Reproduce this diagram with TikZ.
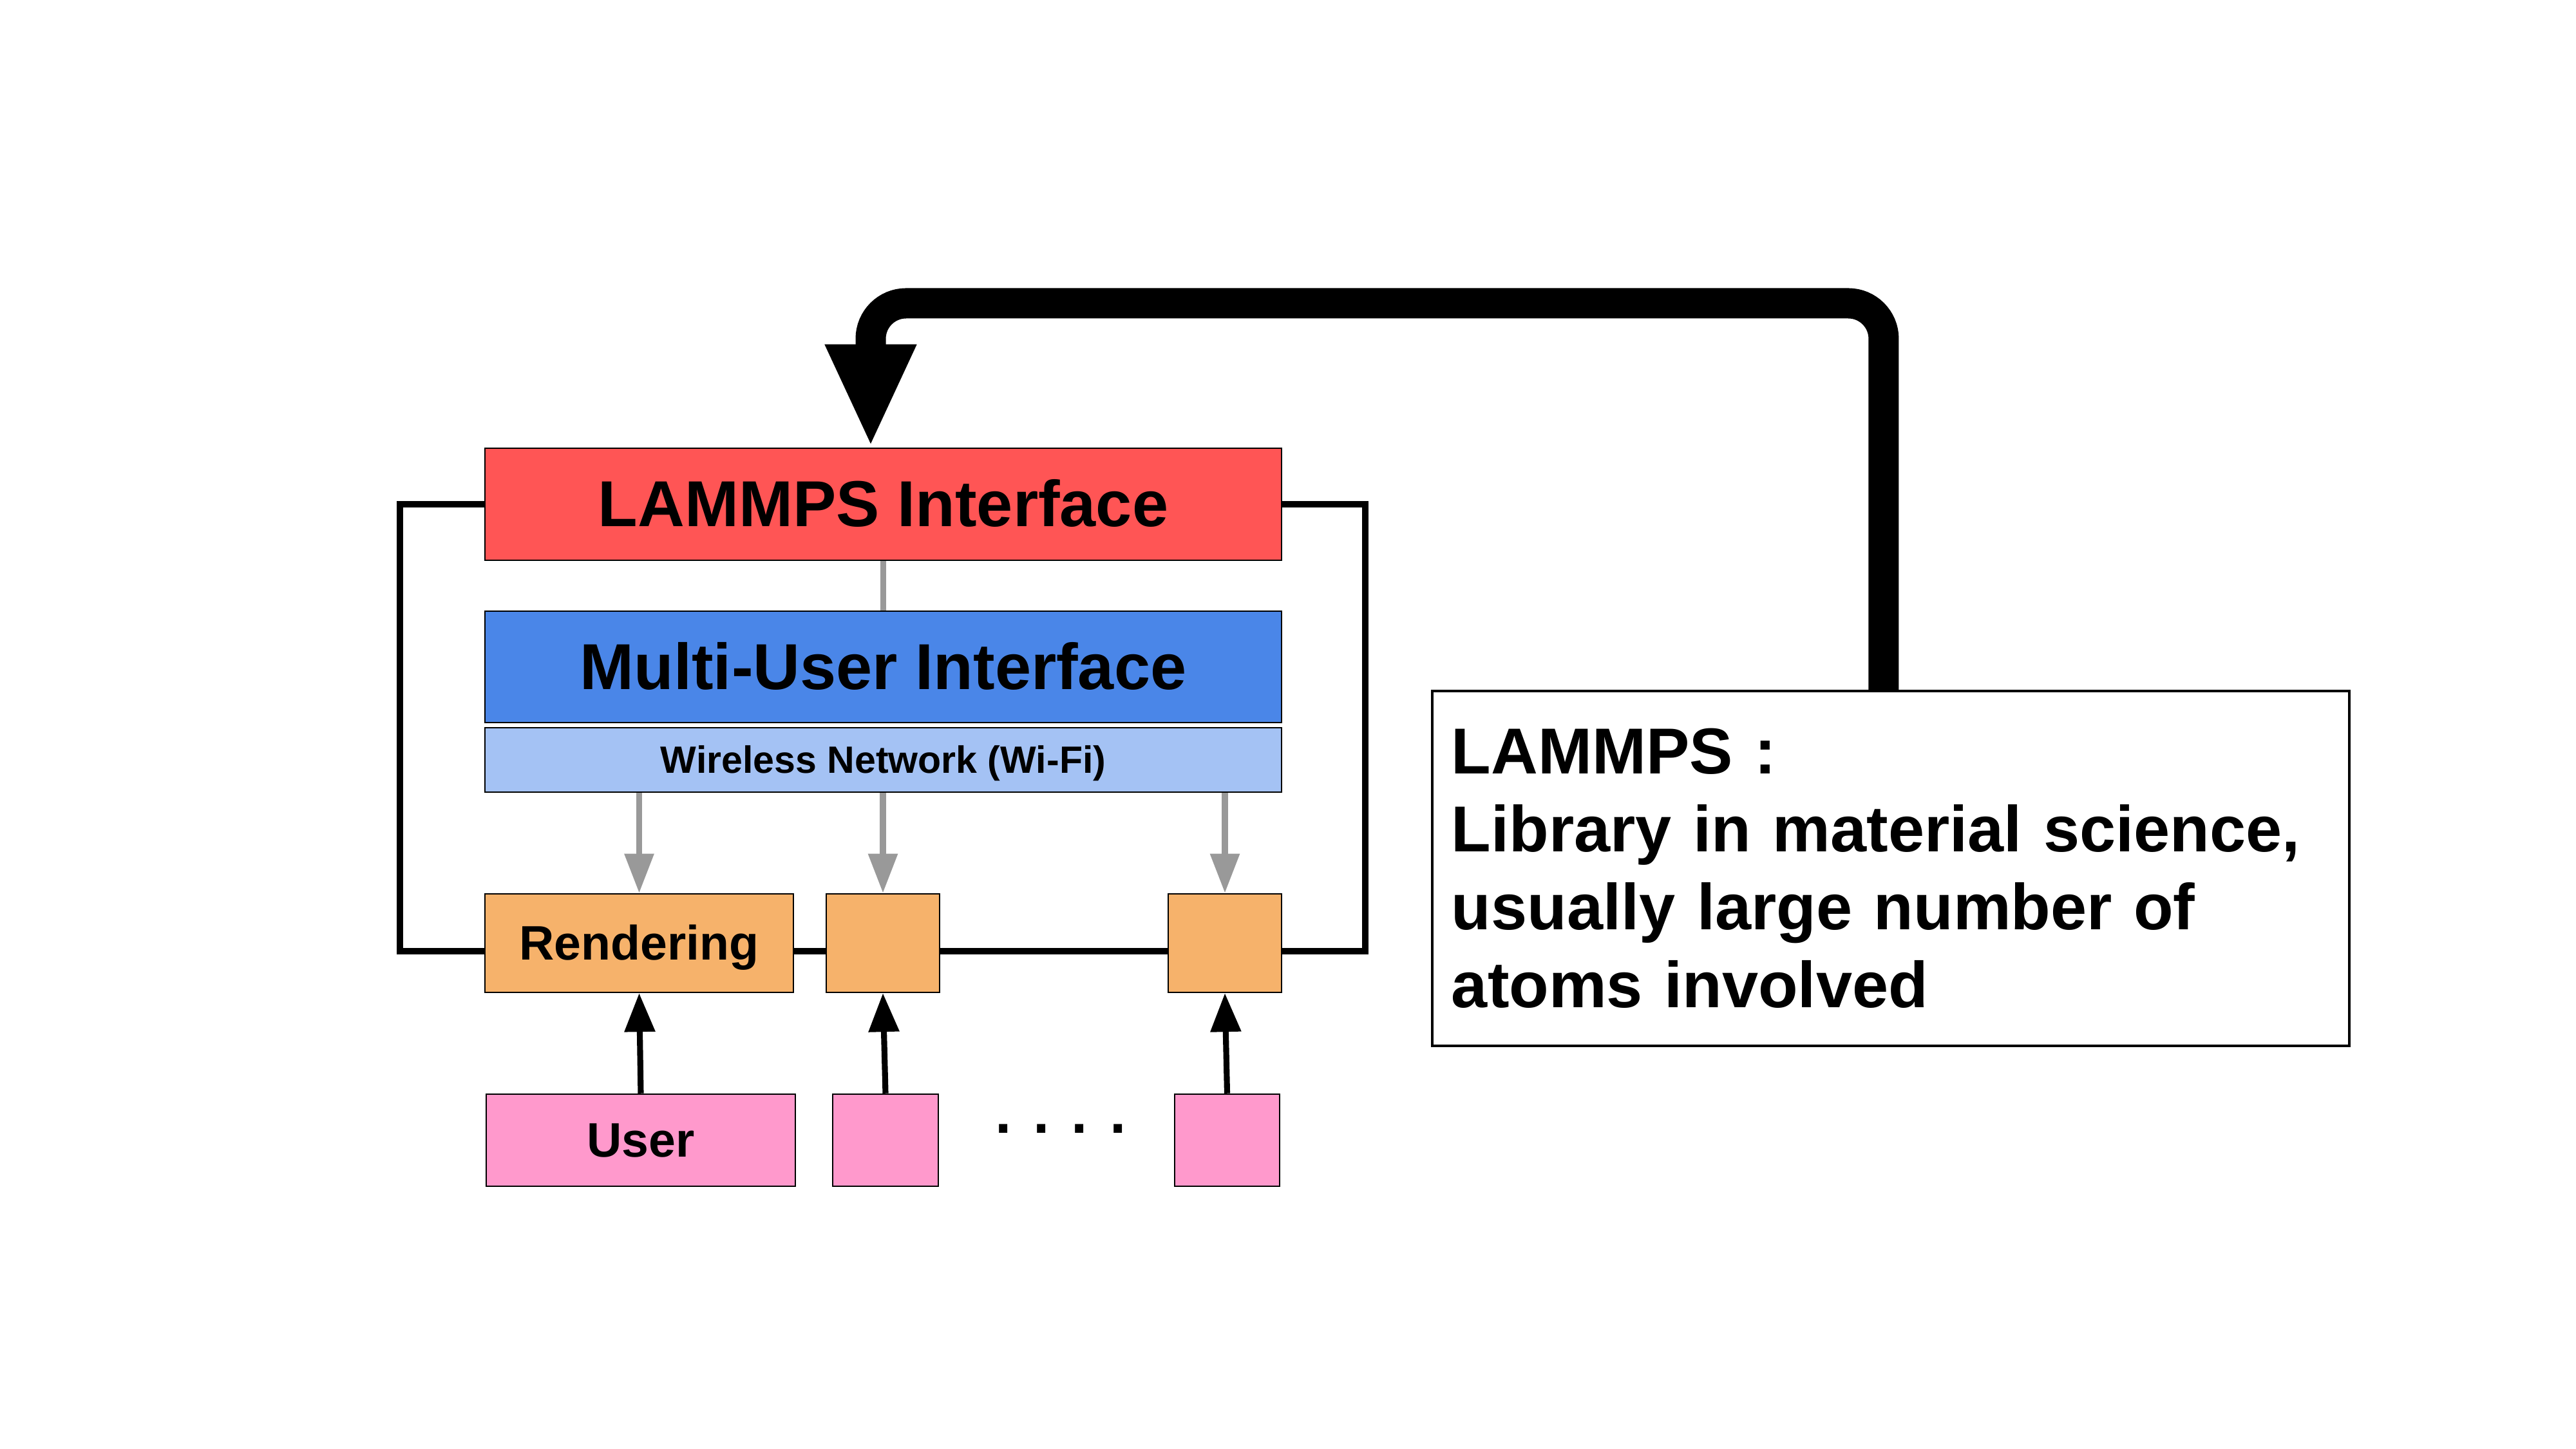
\documentclass[tikz,border=0pt]{standalone}
\usepackage{fontspec}
\setmainfont{Liberation Sans}
\usetikzlibrary{arrows.meta,backgrounds}

\definecolor{lammpsred}{HTML}{FF5555}
\definecolor{muiblue}{HTML}{4A86E8}
\definecolor{wifiblue}{HTML}{A4C2F4}
\definecolor{renderorange}{HTML}{F6B26B}
\definecolor{userpink}{HTML}{FF99CC}
\definecolor{linkgray}{HTML}{999999}

\tikzset{
  box/.style={draw=black, line width=0.7pt, inner sep=0pt},
  bigtext/.style={font=\bfseries\fontsize{28.7}{34.4}\selectfont, text height=25.97pt, text depth=6.08pt},
  midtext/.style={font=\bfseries\fontsize{21.4}{25.7}\selectfont, text height=19.37pt, text depth=4.54pt},
  smalltext/.style={font=\bfseries\fontsize{16.8}{20.2}\selectfont, text height=15.2pt, text depth=3.56pt},
  layerbox/.style={box, minimum width=12.37cm},
  wire/.style={linkgray, line width=2.6pt},
  feed/.style={wire, -{Triangle[width=0.44cm,length=0.61cm]}},
  input/.style={black, line width=2.6pt, -{Triangle[width=0.46cm,length=0.6cm]}},
  frame/.style={black, line width=3.1pt},
  loopback/.style={black, line width=0.47cm, rounded corners=0.55cm,
    -{Triangle[width=1.3cm,length=1.6cm]}},
}

\begin{document}
\begin{tikzpicture}
  \useasboundingbox (0,0) rectangle (40,22.5); % page size

  % Server side layers
  \node[layerbox, fill=lammpsred, minimum height=1.74cm, bigtext] (lammps) at (13.715,14.67) {LAMMPS Interface};
  \node[layerbox, fill=muiblue, minimum height=1.73cm, bigtext] (mui) at (13.715,12.145) {Multi-User Interface};
  \node[layerbox, fill=wifiblue, minimum height=1.0cm, smalltext] (wifi) at (13.715,10.70) {Wireless Network (Wi-Fi)};

  % Rendering clients
  \node[box, fill=renderorange, minimum width=4.79cm, minimum height=1.53cm, midtext] (rend) at (9.925,7.855) {Rendering};
  \node[box, fill=renderorange, minimum width=1.76cm, minimum height=1.53cm] (ren2) at (13.71,7.855) {};
  \node[box, fill=renderorange, minimum width=1.76cm, minimum height=1.53cm] (ren3) at (19.02,7.855) {};

  % Users
  \node[box, fill=userpink, minimum width=4.8cm, minimum height=1.43cm, midtext] (user) at (9.95,4.795) {User};
  \node[box, fill=userpink, minimum width=1.64cm, minimum height=1.43cm] (user2) at (13.75,4.795) {};
  \node[box, fill=userpink, minimum width=1.63cm, minimum height=1.43cm] (user3) at (19.055,4.795) {};
  \node[anchor=base, font=\bfseries\fontsize{26}{31}\selectfont] (dots) at (16.47,4.90) {. . . .};

  % Note on the right
  \node[box, line width=1.1pt, anchor=north west, minimum width=14.24cm, minimum height=5.51cm,
        text width=13.64cm, inner xsep=0.3cm, align=left, font=\bfseries\fontsize{28.7}{34.4}\selectfont] (note) at (22.22,11.79)
    {LAMMPS :\\Library in material science,\\usually large number of\\atoms involved};

  % Loop round the whole setup
  \coordinate (cl) at (6.21,7.73);
  \coordinate (cr) at (21.20,7.73);
  \begin{scope}[on background layer]
    \draw[frame] (lammps.west) -| (cl) -- (cr) |- (lammps.east);
  \end{scope}

  % Links
  \draw[wire] (lammps) -- (mui);
  \foreach \r in {rend,ren2,ren3} {
    \draw[feed] (\r.north |- wifi.south) -- (\r.north);
  }
  \foreach \r/\u in {rend/user,ren2/user2,ren3/user3} {
    \draw[input] (\u.north) -- (\r.south);
  }

  % Big arrow from the note back to LAMMPS
  \coordinate (bend) at (13.52,17.79);
  \draw[loopback] ([xshift=-1.1mm]note.north) |- (bend) -- ([xshift=-1.95mm]lammps.north);
\end{tikzpicture}
\end{document}
